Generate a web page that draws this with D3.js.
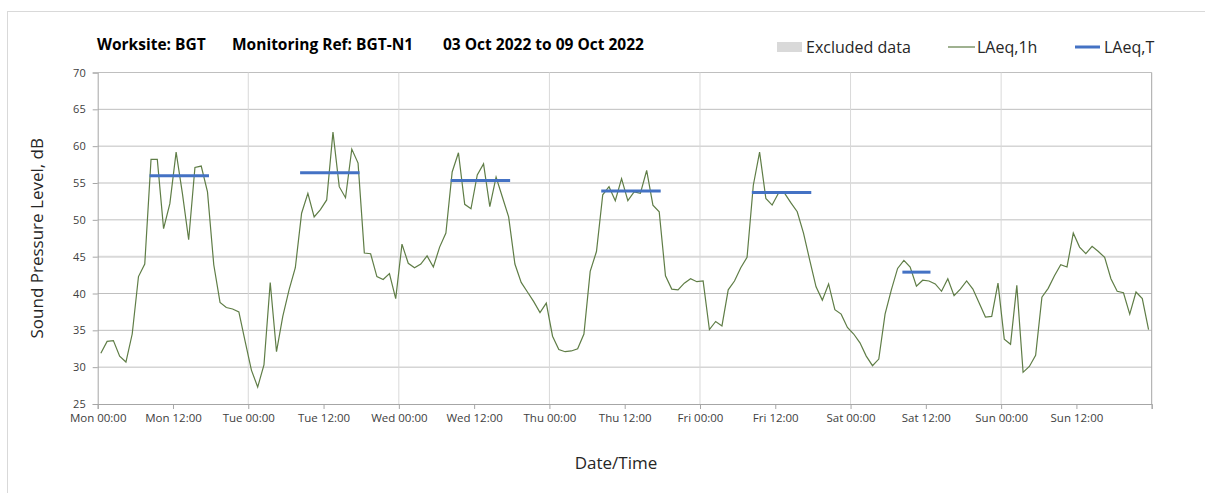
<!DOCTYPE html>
<html>
<head>
<meta charset="utf-8">
<script src="https://cdn.jsdelivr.net/npm/d3@7"></script>
<style>
  body { margin: 0; background: #fff; }
  text { font-family: "Open Sans", "Noto Sans", sans-serif; }
</style>
</head>
<body>
<div id="chart"></div>
<script>
// hourly LAeq,1h values, Mon 00:00 to Sun 23:00 (plotted at mid-hour)
var laeq1hMon = [31.9, 33.5, 33.6, 31.5, 30.7, 34.5, 42.3, 44.0, 58.2, 58.2, 48.8, 52.2, 59.2, 53.6, 47.3, 57.1, 57.3, 53.8, 43.9, 38.8, 38.1, 37.9, 37.5, 33.5];
var laeq1hTue = [29.6, 27.3, 30.3, 41.5, 32.1, 36.9, 40.5, 43.5, 50.9, 53.6, 50.4, 51.4, 52.7, 61.9, 54.5, 53.0, 59.6, 57.7, 45.5, 45.4, 42.3, 41.9, 42.7, 39.3];
var laeq1hWed = [46.7, 44.1, 43.5, 44.0, 45.1, 43.6, 46.3, 48.2, 56.5, 59.1, 52.1, 51.5, 56.1, 57.6, 51.8, 55.8, 53.1, 50.4, 44.0, 41.5, 40.2, 38.9, 37.4, 38.7];
var laeq1hThu = [34.2, 32.4, 32.1, 32.2, 32.5, 34.5, 43.0, 45.7, 53.4, 54.5, 52.6, 55.6, 52.6, 53.8, 53.6, 56.7, 52.0, 51.1, 42.4, 40.6, 40.5, 41.4, 42.0, 41.6];
var laeq1hFri = [41.7, 35.1, 36.2, 35.6, 40.5, 41.7, 43.5, 44.9, 54.7, 59.2, 52.9, 52.0, 53.6, 53.6, 52.3, 51.1, 48.2, 44.5, 40.9, 39.1, 41.3, 37.8, 37.2, 35.4];
var laeq1hSat = [34.5, 33.3, 31.5, 30.2, 31.1, 37.2, 40.5, 43.4, 44.5, 43.6, 41.0, 41.8, 41.7, 41.3, 40.3, 42.0, 39.7, 40.6, 41.7, 40.6, 38.7, 36.8, 36.9, 41.4];
var laeq1hSun = [33.8, 33.1, 41.1, 29.3, 30.1, 31.6, 39.5, 40.7, 42.4, 43.9, 43.6, 48.2, 46.3, 45.4, 46.4, 45.7, 44.9, 42.0, 40.3, 40.1, 37.2, 40.2, 39.3, 35.1];

// LAeq,T periods: [start hour, end hour] from Mon 00:00, and level
var periodStart = [8.5, 32.5, 56.5, 80.5, 104.5, 128.5];
var periodEnd   = [17.5, 41.5, 65.5, 89.5, 113.5, 132.5];
var laeqT       = [56.0, 56.4, 55.35, 53.9, 53.7, 42.9];

var dayNames = ["Mon", "Tue", "Wed", "Thu", "Fri", "Sat", "Sun"];
var yTicks = [25, 30, 35, 40, 45, 50, 55, 60, 65, 70];

var titleParts = ["Worksite: BGT", "Monitoring Ref: BGT-N1", "03 Oct 2022 to 09 Oct 2022"];
var legendLabels = ["Excluded data", "LAeq,1h", "LAeq,T"];

var width = 1205, height = 493;
var margin = {top: 72.5, right: 53.3, bottom: 89, left: 97.7};

var svg = d3.select("#chart").append("svg")
  .attr("width", width)
  .attr("height", height);

// chart frame
svg.append("rect")
  .attr("x", 7.5).attr("y", 11.5)
  .attr("width", 1205).attr("height", 500)
  .attr("fill", "none")
  .attr("stroke", "#d9d9d9");

var allDays = [laeq1hMon, laeq1hTue, laeq1hWed, laeq1hThu, laeq1hFri, laeq1hSat, laeq1hSun];
var series = [];
allDays.forEach((day, d) => {
  day.forEach((v, h) => series.push({t: d * 24 + h + 0.5, v: v}));
});

var x = d3.scaleLinear().domain([0, 168]).range([margin.left, width - margin.right]);
var y = d3.scaleLinear().domain([25, 70]).range([height - margin.bottom, margin.top]);

var g = svg.append("g");

// horizontal gridlines
g.selectAll(".hgrid")
  .data(yTicks.slice(1))
  .join("line")
  .attr("x1", x(0)).attr("x2", x(168))
  .attr("y1", d => y(d)).attr("y2", d => y(d))
  .attr("stroke", d => d == 45 ? "#d9d9d9" : "#bfbfbf")
  .attr("stroke-width", d => d == 45 ? 2 : 1);

// vertical gridlines at midnight
g.selectAll(".vgrid")
  .data(d3.range(24, 168, 24))
  .join("line")
  .attr("x1", d => x(d)).attr("x2", d => x(d))
  .attr("y1", y(25)).attr("y2", y(70))
  .attr("stroke", "#d9d9d9");

// right border of plot area
g.append("line")
  .attr("x1", x(168)).attr("x2", x(168))
  .attr("y1", y(25)).attr("y2", y(70))
  .attr("stroke", "#a6a6a6");

// y axis
var yAxis = d3.axisLeft(y).tickValues(yTicks).tickSize(5).tickPadding(7);
var yg = svg.append("g")
  .attr("transform", `translate(${x(0)},0)`)
  .call(yAxis);
yg.select(".domain").attr("stroke", "#a6a6a6");
yg.selectAll(".tick line").attr("stroke", "#a6a6a6");
yg.selectAll(".tick text")
  .attr("fill", "#404040")
  .style("font-size", "11px");

// x axis
var tickLabel = (d) => {
  if (d >= 168) return "";
  return dayNames[Math.floor(d / 24)] + " " + (d % 24 == 0 ? "00:00" : "12:00");
};
var xAxis = d3.axisBottom(x).tickValues(d3.range(0, 169, 12)).tickSize(5).tickPadding(5).tickFormat(tickLabel);
var xg = svg.append("g")
  .attr("transform", `translate(0,${y(25)})`)
  .call(xAxis);
xg.select(".domain").attr("stroke", "#a6a6a6");
xg.selectAll(".tick line").attr("stroke", "#a6a6a6");
xg.selectAll(".tick text")
  .attr("fill", "#404040")
  .style("font-size", "11.5px");

// LAeq,1h line
var line = d3.line().x(d => x(d.t)).y(d => y(d.v));
svg.append("path")
  .datum(series)
  .attr("d", line)
  .attr("fill", "none")
  .attr("stroke", "#5f7d46")
  .attr("stroke-width", 1.2);

// LAeq,T lines
svg.selectAll(".laeqT")
  .data(laeqT)
  .join("line")
  .attr("x1", (d, i) => x(periodStart[i]))
  .attr("x2", (d, i) => x(periodEnd[i]))
  .attr("y1", d => y(d)).attr("y2", d => y(d))
  .attr("stroke", "#4472c4")
  .attr("stroke-width", 3)
  .attr("stroke-linecap", "square");

// title
var titleX = [97, 232, 443];
svg.selectAll(".title")
  .data(titleParts)
  .join("text")
  .attr("x", (d, i) => titleX[i])
  .attr("y", 49.5)
  .attr("font-weight", "bold")
  .style("font-size", "15.5px")
  .attr("fill", "#000")
  .text(d => d);

// legend
var leg = svg.append("g");
leg.append("rect").attr("x", 777).attr("y", 42).attr("width", 25).attr("height", 10).attr("fill", "#d9d9d9");
leg.append("line").attr("x1", 948).attr("x2", 975).attr("y1", 47).attr("y2", 47)
  .attr("stroke", "#5f7d46").attr("stroke-width", 1.2);
leg.append("line").attr("x1", 1075).attr("x2", 1100).attr("y1", 47).attr("y2", 47)
  .attr("stroke", "#4472c4").attr("stroke-width", 3);
var legX = [806, 977, 1104];
leg.selectAll(".legtext")
  .data(legendLabels)
  .join("text")
  .attr("x", (d, i) => legX[i])
  .attr("y", 53)
  .style("font-size", "16px")
  .attr("fill", "#262626")
  .text(d => d);

// axis titles
svg.append("text")
  .attr("transform", `translate(43,${(y(25) + y(70)) / 2}) rotate(-90)`)
  .attr("text-anchor", "middle")
  .style("font-size", "17px")
  .attr("fill", "#262626")
  .text("Sound Pressure Level, dB");

svg.append("text")
  .attr("x", 616)
  .attr("y", 469)
  .attr("text-anchor", "middle")
  .style("font-size", "17px")
  .attr("fill", "#262626")
  .text("Date/Time");
</script>
</body>
</html>
